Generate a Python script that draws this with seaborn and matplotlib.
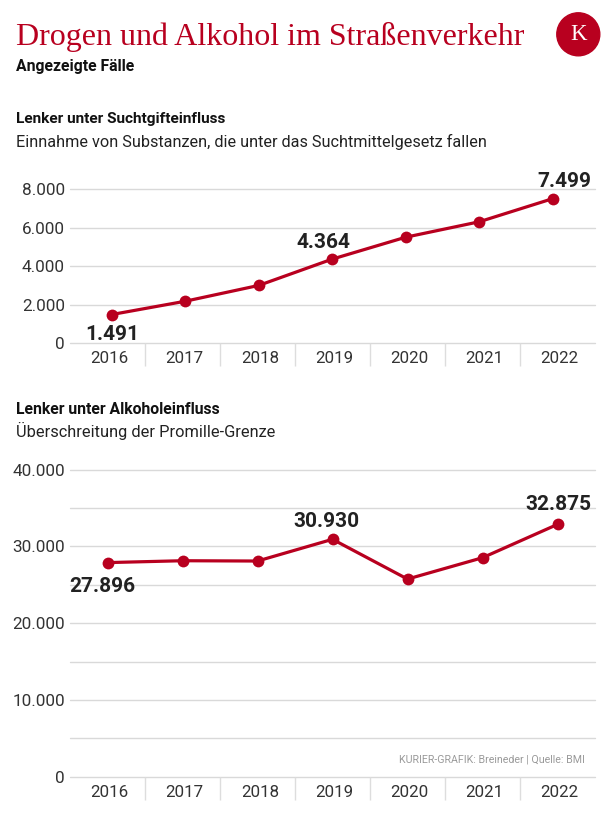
import numpy as np
import pandas as pd
import matplotlib
matplotlib.use("Agg")
import matplotlib.pyplot as plt
from matplotlib import font_manager as fm
from matplotlib.patches import Ellipse
import seaborn as sns

# data
years = ["2016", "2017", "2018", "2019", "2020", "2021", "2022"]
drugs = [1491, 2180, 3000, 4364, 5500, 6300, 7499]
alcohol = [27896, 28140, 28100, 30930, 25750, 28530, 32875]
drug_ticks = [0, 2000, 4000, 6000, 8000]
alc_ticks = [0, 10000, 20000, 30000, 40000]
alc_grid = [0, 5000, 10000, 15000, 20000, 25000, 30000, 35000, 40000]
labelled = [0, 3, 6]

RED = "#b8001f"
W, H = 616, 825

sns.set_theme(style="white")
plt.rcParams["font.family"] = ["Roboto", "DejaVu Sans"]
names = {f.name for f in fm.fontManager.ttflist}
narrow = "Liberation Sans Narrow" if "Liberation Sans Narrow" in names else "Roboto"


def fmt(v):
    return "{:,}".format(int(v)).replace(",", ".")


def fig_text(x, y, s, **kw):
    fig.text(x / W, 1 - y / H, s, **kw)


def axes_rect(top_px, bottom_px, left=70, right=595):
    return [left / W, 1 - bottom_px / H, (right - left) / W, (bottom_px - top_px) / H]


def draw_chart(ax, values, ticks, grid, ymax, xlim, offsets):
    df = pd.DataFrame({"pos": np.arange(len(years)), "value": values})
    sns.lineplot(data=df, x="pos", y="value", ax=ax, color=RED, linewidth=2.3,
                 marker="o", markersize=8.5, markeredgewidth=0, clip_on=False)
    ax.set_xlim(*xlim)
    ax.set_ylim(0, ymax)
    ax.set_yticks(grid)
    ax.set_yticklabels([fmt(t) if t in ticks else "" for t in grid])
    ax.set_xticks([])
    ax.set_xlabel("")
    ax.set_ylabel("")
    ax.grid(axis="y", color="#d9d9d9", linewidth=1.0)
    for gl in ax.get_ygridlines():
        gl.set_clip_on(False)
    ax.set_axisbelow(True)
    for s in ax.spines.values():
        s.set_visible(False)
    ax.tick_params(axis="y", length=0, pad=3.6, labelsize=12.3, labelcolor="#333333")

    # value labels
    for i in labelled:
        dx, dy = offsets[i]
        ax.annotate(fmt(values[i]), xy=(i, values[i]), xytext=(dx * 0.72, dy * 0.72),
                    textcoords="offset points", ha="center", va="baseline",
                    fontsize=15, fontweight="bold", color="#222222",
                    annotation_clip=False)

    # year bands with separators
    ax2 = ax.twiny()
    ax2.set_xlim(0, len(years))
    ax2.xaxis.set_ticks_position("bottom")
    ax2.set_xticks(np.arange(len(years)) + 0.53)
    ax2.set_xticklabels(years)
    ax2.set_xticks(np.arange(1, len(years)), minor=True)
    ax2.tick_params(axis="x", which="major", length=0, pad=5.8, labelsize=12.2,
                    labelcolor="#333333")
    ax2.tick_params(axis="x", which="minor", length=16.5, width=1.0, color="#dddddd",
                    direction="out")
    ax2.grid(False)
    for s in ax2.spines.values():
        s.set_visible(False)
    return ax2


fig = plt.figure(figsize=(W / 100, H / 100), dpi=100)

# header
fig_text(16, 44.5, "Drogen und Alkohol im Straßenverkehr", fontsize=23,
         family="Liberation Serif", color=RED, va="baseline")
fig_text(16, 71, "Angezeigte Fälle", fontsize=11.3, fontweight="bold",
         family=narrow, color="#111111", va="baseline")
logo = Ellipse((578.3 / W, 1 - 34.3 / H), 2 * 21.5 / W, 2 * 21.5 / H,
               transform=fig.transFigure, color=RED)
fig.patches.append(logo)
fig_text(578.3, 35, "K", fontsize=16.5, family="Liberation Serif", color="white",
         ha="center", va="center")

# top chart
fig_text(16, 123.5, "Lenker unter Suchtgifteinfluss", fontsize=11.1, fontweight="bold",
         family=narrow, color="#111111", va="baseline")
fig_text(16, 147.5, "Einnahme von Substanzen, die unter das Suchtmittelgesetz fallen",
         fontsize=11.7, color="#222222", va="baseline")
top_scale = (343.3 - 189.0) / 8000
ymax_top = 8800
ax1 = fig.add_axes(axes_rect(343.3 - ymax_top * top_scale, 343.3))
draw_chart(ax1, drugs, drug_ticks, drug_ticks, ymax_top, (-0.567, 6.576),
           {0: (1, -25), 3: (-9, 11), 6: (12, 12)})

# bottom chart
fig_text(16, 413.5, "Lenker unter Alkoholeinfluss", fontsize=11.3, fontweight="bold",
         family=narrow, color="#111111", va="baseline")
fig_text(16, 437.5, "Überschreitung der Promille-Grenze",
         fontsize=11.75, color="#222222", va="baseline")
bot_scale = (776.7 - 469.7) / 40000
ymax_bot = 42500
ax3 = fig.add_axes(axes_rect(776.7 - ymax_bot * bot_scale, 776.7))
draw_chart(ax3, alcohol, alc_ticks, alc_grid, ymax_bot, (-0.5, 6.5),
           {0: (-5, -29), 3: (-6, 12), 6: (1, 14)})

fig_text(585, 762, "KURIER-GRAFIK: Breineder | Quelle: BMI", fontsize=7.7,
         family=narrow, color="#9a9a9a", ha="right", va="baseline")

fig.savefig("out.png", dpi=100)
